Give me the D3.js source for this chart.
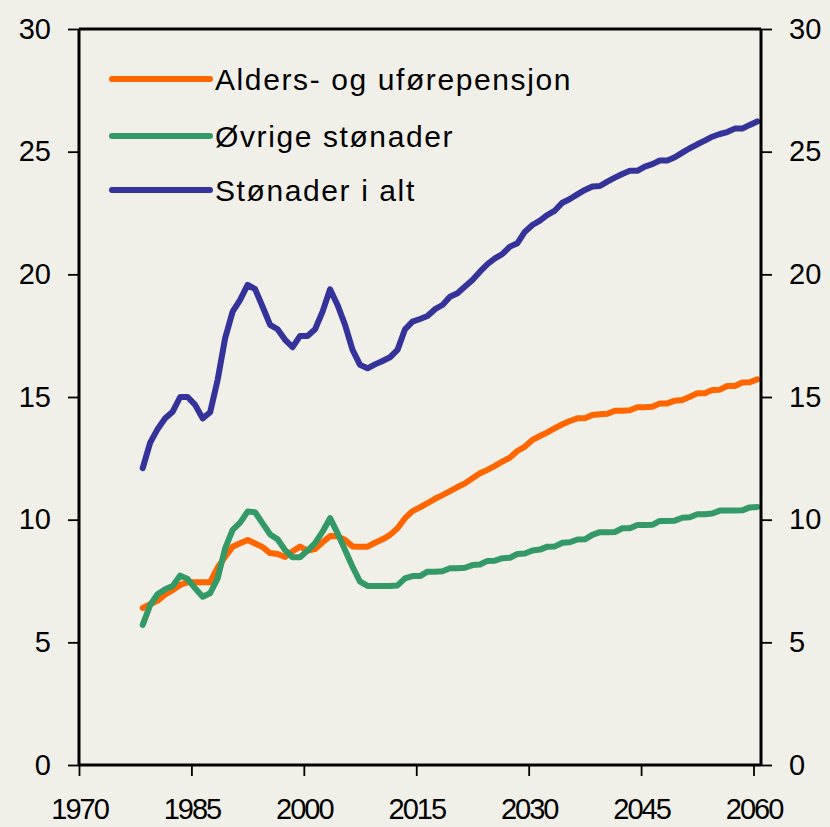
<!DOCTYPE html>
<html lang="no">
<head>
<meta charset="utf-8">
<title>Stønader</title>
<script src="https://cdn.jsdelivr.net/npm/d3@7"></script>
<style>
  html, body { margin: 0; padding: 0; background: #f0efe8; }
  svg { display: block; font-family: "Liberation Sans", Arial, sans-serif; }
</style>
</head>
<body>
<script>
// kategorier: år 1978-2060
const years = d3.range(1978, 2061);

const alders = [
  6.4, 6.55, 6.7, 6.95, 7.13, 7.34, 7.45, 7.45, 7.45, 7.45,
  8.05, 8.49, 8.9, 9.04, 9.17, 9.03, 8.88, 8.64, 8.6, 8.48,
  8.71, 8.9, 8.74, 8.8, 9.08, 9.33, 9.32, 9.17, 8.91, 8.9,
  8.9, 9.06, 9.2, 9.38, 9.65, 10.06, 10.35, 10.5, 10.67, 10.85,
  11.0, 11.16, 11.33, 11.48, 11.69, 11.89, 12.03, 12.19, 12.37, 12.53,
  12.8, 12.98, 13.25, 13.41, 13.56, 13.73, 13.89, 14.02, 14.13, 14.13,
  14.27, 14.3, 14.32, 14.44, 14.44, 14.46, 14.58, 14.58, 14.6, 14.74,
  14.74, 14.85, 14.88, 15.01, 15.15, 15.15, 15.29, 15.3, 15.45, 15.45,
  15.59, 15.6, 15.72
];

const ovrige = [
  5.71, 6.52, 6.97, 7.16, 7.3, 7.72, 7.58, 7.2, 6.86, 7.0,
  7.61, 8.83, 9.58, 9.88, 10.33, 10.3, 9.85, 9.4, 9.2, 8.76,
  8.47, 8.47, 8.74, 9.04, 9.51, 10.06, 9.45, 8.76, 8.08, 7.47,
  7.3, 7.3, 7.3, 7.3, 7.32, 7.61, 7.7, 7.7, 7.88, 7.88,
  7.9, 8.02, 8.02, 8.04, 8.15, 8.17, 8.32, 8.33, 8.43, 8.45,
  8.6, 8.62, 8.74, 8.78, 8.9, 8.91, 9.06, 9.08, 9.19, 9.2,
  9.38, 9.49, 9.49, 9.5, 9.65, 9.65, 9.78, 9.78, 9.79, 9.95,
  9.95, 9.96, 10.08, 10.1, 10.22, 10.22, 10.25, 10.37, 10.37, 10.37,
  10.38, 10.5, 10.52
];

const totalt = [
  12.1, 13.14, 13.7, 14.13, 14.4, 15.0, 15.0, 14.68, 14.13, 14.38,
  15.7, 17.4, 18.48, 18.96, 19.57, 19.4, 18.68, 17.94, 17.76, 17.33,
  17.03, 17.49, 17.49, 17.76, 18.48, 19.39, 18.75, 17.94, 16.92, 16.31,
  16.17, 16.33, 16.47, 16.62, 16.92, 17.76, 18.07, 18.18, 18.3, 18.58,
  18.75, 19.09, 19.23, 19.5, 19.77, 20.11, 20.42, 20.65, 20.83, 21.13,
  21.27, 21.74, 22.01, 22.19, 22.42, 22.6, 22.92, 23.07, 23.26, 23.44,
  23.58, 23.6, 23.78, 23.94, 24.09, 24.22, 24.22, 24.39, 24.49, 24.64,
  24.64, 24.77, 24.96, 25.14, 25.3, 25.45, 25.61, 25.72, 25.8, 25.94,
  25.94, 26.09, 26.23
];

const xTicks = [1970, 1985, 2000, 2015, 2030, 2045, 2060];
const yTicks = [0, 5, 10, 15, 20, 25, 30];

const series = [
  { name: "Alders- og uførepensjon", values: alders, color: "#ff6600" },
  { name: "Øvrige stønader", values: ovrige, color: "#339966" },
  { name: "Stønader i alt", values: totalt, color: "#333399" }
];

const w = 830, h = 827;
const plotLeft = 79, plotRight = 761, plotTop = 29, plotBottom = 765;

const svg = d3.select("body").append("svg")
  .attr("width", w)
  .attr("height", h);

svg.append("rect").attr("width", w).attr("height", h).attr("fill", "#f0efe8");

// category axis: each year occupies one slot, points in the middle
const x = d3.scaleLinear().domain([1970, 2061]).range([plotLeft, plotRight]);
const y = d3.scaleLinear().domain([0, 30]).range([plotBottom, plotTop]);

// lines
const line = d3.line()
  .x((d, i) => x(years[i] + 0.5))
  .y(d => y(d));

series.forEach(s => {
  svg.append("path")
    .datum(s.values)
    .attr("fill", "none")
    .attr("stroke", s.color)
    .attr("stroke-width", 6)
    .attr("stroke-linejoin", "round")
    .attr("stroke-linecap", "round")
    .attr("d", line);
});

// axes
const yLeft = d3.axisLeft(y).tickValues(yTicks).tickSize(11).tickPadding(17);
const yRight = d3.axisRight(y).tickValues(yTicks).tickSize(11).tickPadding(17);
const xAxis = d3.axisBottom(x).tickValues(xTicks).tickSize(11)
  .tickFormat(d3.format("d"));

function styleAxis(g) {
  g.select(".domain").remove();
  g.selectAll(".tick line").attr("stroke", "#000").attr("stroke-width", 1.8);
  g.selectAll(".tick text")
    .attr("fill", "#000")
    .attr("font-size", 29)
    .attr("font-family", "'Liberation Sans', Arial, sans-serif");
}

svg.append("g").attr("transform", `translate(${plotLeft},0)`).call(yLeft).call(styleAxis);
svg.append("g").attr("transform", `translate(${plotRight},0)`).call(yRight).call(styleAxis);
svg.append("g").attr("transform", `translate(0,${plotBottom})`).call(xAxis).call(styleAxis)
  .selectAll(".tick text")
  .attr("font-size", 29)
  .attr("letter-spacing", -2)
  .attr("y", 54)
  .attr("dy", 0);

// frame: left, right, bottom and top lines
const frame = svg.append("g").attr("stroke", "#000").attr("stroke-width", 3).attr("fill", "none");
frame.append("line").attr("x1", plotLeft).attr("x2", plotLeft).attr("y1", plotTop).attr("y2", plotBottom);
frame.append("line").attr("x1", plotRight).attr("x2", plotRight).attr("y1", plotTop).attr("y2", plotBottom);
frame.append("line").attr("x1", plotLeft).attr("x2", plotRight).attr("y1", plotBottom).attr("y2", plotBottom);
frame.append("line").attr("x1", plotLeft).attr("x2", plotRight).attr("y1", plotTop).attr("y2", plotTop);

// legend
const legend = svg.append("g");
const legendY = [79, 136, 190];
series.forEach((s, i) => {
  legend.append("line")
    .attr("x1", 112).attr("x2", 210)
    .attr("y1", legendY[i]).attr("y2", legendY[i])
    .attr("stroke", s.color)
    .attr("stroke-width", 6)
    .attr("stroke-linecap", "round");
  legend.append("text")
    .attr("x", 215)
    .attr("y", legendY[i] + 11)
    .attr("font-size", 30)
    .attr("letter-spacing", 1.6)
    .attr("fill", "#000")
    .text(s.name);
});
</script>
</body>
</html>
